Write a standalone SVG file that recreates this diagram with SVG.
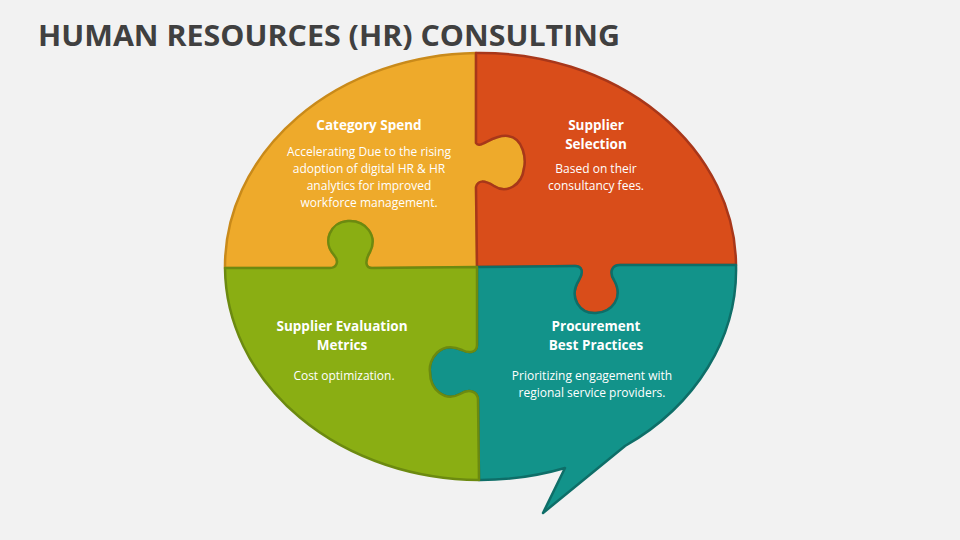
<svg xmlns="http://www.w3.org/2000/svg" width="960" height="540" viewBox="0 0 960 540">
<style>
.t{font-family:"Open Sans","Liberation Sans",sans-serif;fill:#fff;text-anchor:middle}
.h{font-size:13.5px;font-weight:bold}
.b{font-size:12px}
.p{stroke-width:2.5;stroke-linejoin:round}
</style>
<rect width="960" height="540" fill="#F2F2F2"/>
<text x="38" y="46" font-family="'Open Sans','Liberation Sans',sans-serif" font-weight="bold" font-size="29" fill="#404040" textLength="582" lengthAdjust="spacingAndGlyphs">HUMAN RESOURCES (HR) CONSULTING</text>
<g id="category-spend">
<path class="p" fill="#EEAA2B" stroke="#C98A1A" d="M225 268 A255.5 213.5 0 0 1 476 53 L476 143 C480 150 492 134 508 136 C524 138 526 160 524 168 C522 186 506 194 494 186 C484 180 478 180 476 187 L477 267 L372 268 C366 268 364 262 370 252 C378 236 366 220 348 221 C330 222 322 242 334 255 C340 262 336 268 330 268 L225 268 Z"/>
<text class="t h" x="369" y="130">Category Spend</text>
<text class="t b" x="369" y="156">Accelerating Due to the rising</text>
<text class="t b" x="369" y="173">adoption of digital HR &amp; HR</text>
<text class="t b" x="369" y="190">analytics for improved</text>
<text class="t b" x="369" y="207">workforce management.</text>
</g>
<g id="supplier-selection">
<path class="p" fill="#D94D1A" stroke="#A8371A" d="M476 53 A255.5 213.5 0 0 1 736 265 L620 265 C612 265 609 272 614 280 C624 298 612 312 596 313 C580 314 568 298 579 280 C584 272 582 266 575 266 L477 267 L476 187 C478 180 484 180 494 186 C506 194 522 186 524 168 C526 160 524 138 508 136 C492 134 480 150 476 143 Z"/>
<text class="t h" x="596" y="130">Supplier</text>
<text class="t h" x="596" y="149">Selection</text>
<text class="t b" x="596" y="173">Based on their</text>
<text class="t b" x="596" y="190">consultancy fees.</text>
</g>
<g id="procurement">
<path class="p" fill="#12938A" stroke="#0E6E68" d="M477 267 L575 266 C582 266 584 272 579 280 C568 298 580 314 596 313 C612 312 624 298 614 280 C609 272 612 265 620 265 L736 265 A255.5 213.5 0 0 1 625 446 L543 513 L565 468 A255.5 213.5 0 0 1 479 480 L478 400 C478 392 470 388 460 394 C445 402 430 390 430 372 C428 360 440 340 462 350 C470 354 477 352 477 345 Z"/>
<text class="t h" x="596" y="331">Procurement</text>
<text class="t h" x="596" y="350">Best Practices</text>
<text class="t b" x="592" y="380">Prioritizing engagement with</text>
<text class="t b" x="592" y="397">regional service providers.</text>
</g>
<g id="supplier-evaluation">
<path class="p" fill="#8AAE13" stroke="#6C8A10" d="M479 480 A255.5 213.5 0 0 1 225 268 L330 268 C336 268 340 262 334 255 C322 242 330 222 348 221 C366 220 378 236 370 252 C364 262 366 268 372 268 L477 267 L477 345 C477 352 470 354 462 350 C440 340 428 360 430 372 C430 390 445 402 460 394 C470 388 478 392 478 400 Z"/>
<text class="t h" x="342" y="331">Supplier Evaluation</text>
<text class="t h" x="342" y="350">Metrics</text>
<text class="t b" x="344" y="380">Cost optimization.</text>
</g>
<g id="connectors"></g>
</svg>
